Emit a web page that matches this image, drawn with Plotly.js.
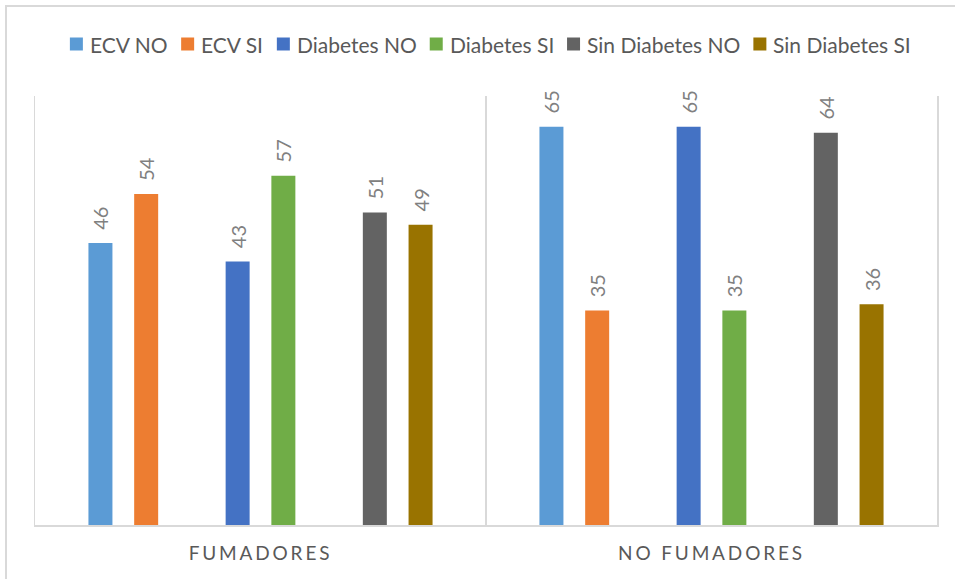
<!DOCTYPE html>
<html>
<head>
<meta charset="utf-8">
<script src="https://cdn.plot.ly/plotly-3.0.1.min.js"></script>
<style>
  html, body { margin: 0; padding: 0; background: #ffffff; }
  #chart { position: absolute; left: 0; top: 0; width: 955px; height: 579px; }
  #frame {
    position: absolute; left: 5px; top: 5px; width: 960px; height: 590px;
    border-left: 2px solid #d9d9d9; border-top: 2px solid #d9d9d9;
    pointer-events: none;
  }
  .xtick text { letter-spacing: 0.15em; }
</style>
</head>
<body>
<div id="chart"></div>
<div id="frame"></div>
<script>
// Groups on the category axis
const categories = ['FUMADORES', 'NO FUMADORES'];

// Series names and their values for each group
const seriesNames = ['ECV NO', 'ECV SI', 'Diabetes NO', 'Diabetes SI', 'Sin Diabetes NO', 'Sin Diabetes SI'];
const ecvNo = [46, 65];
const ecvSi = [54, 35];
const diabetesNo = [43, 65];
const diabetesSi = [57, 35];
const sinDiabetesNo = [51, 64];
const sinDiabetesSi = [49, 36];

const seriesValues = [ecvNo, ecvSi, diabetesNo, diabetesSi, sinDiabetesNo, sinDiabetesSi];
const colors = ['#5B9BD5', '#ED7D31', '#4472C4', '#70AD47', '#636363', '#997300'];

const FONT = 'Lato, sans-serif';

// Plot area geometry (pixels)
const W = 955, H = 579;
const M = { l: 35, r: 18, t: 96, b: 54 };
const plotW = W - M.l - M.r;
const plotH = H - M.t - M.b;

// Bars sit in pairs: eight slots per group, with slots 2 and 5 left empty
const slotOf = [0, 1, 3, 4, 6, 7];
const slotPitch = 0.1014;
const barWidth = 0.0532;

const traces = seriesNames.map((name, i) => ({
  type: 'bar',
  name: name,
  x: categories,
  y: seriesValues[i],
  width: barWidth,
  offset: (slotOf[i] - 3.5) * slotPitch - barWidth / 2,
  marker: { color: colors[i], line: { width: 0 } },
  text: seriesValues[i].map(String),
  texttemplate: '\u00a0\u00a0%{text}',
  textposition: 'outside',
  textangle: -90,
  constraintext: 'none',
  cliponaxis: false,
  textfont: { family: FONT, size: 20, color: '#808080' },
  showlegend: false,
  hoverinfo: 'name+y'
}));

// Legend row: colored square, short gap, series name, wider gap to next item
const legendFontSize = 21;
const legendCenterX = 490, legendY = 44;
const sq = 13, sqGap = 6, itemGap = 14;
const ctx = document.createElement('canvas').getContext('2d');
ctx.font = legendFontSize + 'px Lato';
const textW = seriesNames.map(n => ctx.measureText(n).width);
const totalW = textW.reduce((s, w) => s + sq + sqGap + w, 0) + itemGap * (seriesNames.length - 1);
const px2x = px => (px - M.l) / plotW;
const px2y = py => (H - M.b - py) / plotH;

const shapes = [];
const annotations = [];
let cx = legendCenterX - totalW / 2;
seriesNames.forEach((name, i) => {
  shapes.push({
    type: 'rect', xref: 'paper', yref: 'paper',
    x0: px2x(cx), x1: px2x(cx + sq),
    y0: px2y(legendY + sq / 2), y1: px2y(legendY - sq / 2),
    fillcolor: colors[i], line: { width: 0 }, layer: 'above'
  });
  annotations.push({
    xref: 'paper', yref: 'paper',
    x: px2x(cx + sq + sqGap), y: px2y(legendY),
    xanchor: 'left', yanchor: 'middle',
    text: name, showarrow: false, borderpad: 0,
    font: { family: FONT, size: legendFontSize, color: '#595959' }
  });
  cx += sq + sqGap + textW[i] + itemGap;
});

const layout = {
  width: W,
  height: H,
  margin: M,
  paper_bgcolor: '#ffffff',
  plot_bgcolor: '#ffffff',
  barmode: 'overlay',
  showlegend: false,
  shapes: shapes,
  annotations: annotations,
  xaxis: {
    type: 'category',
    range: [-0.5, 1.5],
    tickson: 'boundaries',
    showgrid: true,
    gridcolor: '#d9d9d9',
    gridwidth: 1.5,
    showline: true,
    linecolor: '#d9d9d9',
    linewidth: 1.5,
    ticks: '',
    ticklen: 0,
    ticklabelstandoff: 11,
    tickfont: { family: FONT, size: 19, color: '#595959' },
    fixedrange: true
  },
  yaxis: {
    range: [0, 70],
    showgrid: false,
    zeroline: false,
    showticklabels: false,
    ticks: '',
    showline: true,
    mirror: true,
    linecolor: '#d9d9d9',
    linewidth: 1.5,
    fixedrange: true
  },
  font: { family: FONT, color: '#595959' }
};

Plotly.newPlot('chart', traces, layout, { displayModeBar: false, staticPlot: true });
</script>
</body>
</html>
